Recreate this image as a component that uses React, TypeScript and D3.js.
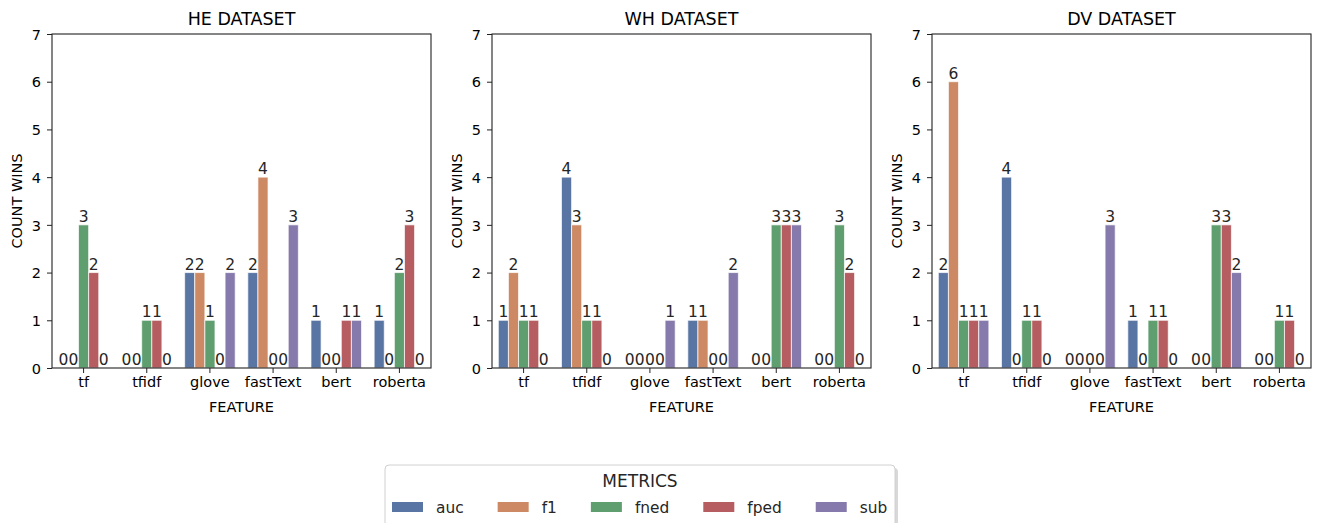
import React, { useRef, useEffect } from 'react';
import * as d3 from 'd3';

const features = ['tf', 'tfidf', 'glove', 'fastText', 'bert', 'roberta'];
const metrics = ['auc', 'f1', 'fned', 'fped', 'sub'];
const colors = ['#5975a4', '#cc8963', '#5f9e6e', '#b55d60', '#857aab'];
const yTicks = [0, 1, 2, 3, 4, 5, 6, 7];

// wins per feature, in metric order auc, f1, fned, fped, sub
const heWins = [
  [0, 0, 3, 2, 0],
  [0, 0, 1, 1, 0],
  [2, 2, 1, 0, 2],
  [2, 4, 0, 0, 3],
  [1, 0, 0, 1, 1],
  [1, 0, 2, 3, 0],
];
const whWins = [
  [1, 2, 1, 1, 0],
  [4, 3, 1, 1, 0],
  [0, 0, 0, 0, 1],
  [1, 1, 0, 0, 2],
  [0, 0, 3, 3, 3],
  [0, 0, 3, 2, 0],
];
const dvWins = [
  [2, 6, 1, 1, 1],
  [4, 0, 1, 1, 0],
  [0, 0, 0, 0, 3],
  [1, 0, 1, 1, 0],
  [0, 0, 3, 3, 2],
  [0, 0, 1, 1, 0],
];
const datasets = [
  { title: 'HE DATASET', wins: heWins },
  { title: 'WH DATASET', wins: whWins },
  { title: 'DV DATASET', wins: dvWins },
];

const FONT = 'DejaVu Sans, sans-serif';

const App = () => {
  const svgRef = useRef(null);
  useEffect(() => {
    document.body.style.margin = '0';
    d3.select(svgRef.current).selectAll('*').remove();
    const svg = d3.select(svgRef.current);
    const top = 34;
    const bottom = 368;
    const w = 379;

    const y = d3.scaleLinear().domain([0, 7]).range([bottom, top]);

    datasets.forEach((ds, i) => {
      const left = 52 + i * 440;
      const g = svg.append('g').attr('transform', `translate(${left},0)`);

      const x = d3.scaleBand().domain(features).range([0, w]).paddingInner(0).paddingOuter(0);
      const inner = d3
        .scaleBand()
        .domain(metrics)
        .range([x.bandwidth() * 0.1, x.bandwidth() * 0.9]);

      // bars
      const groups = g
        .selectAll('.grp')
        .data(ds.wins)
        .enter()
        .append('g')
        .attr('transform', (_, j) => `translate(${x(features[j])},0)`);

      groups
        .selectAll('rect')
        .data((d) => d.map((v, k) => ({ v, k })))
        .enter()
        .append('rect')
        .attr('x', (d) => inner(metrics[d.k]))
        .attr('width', inner.bandwidth())
        .attr('y', (d) => y(d.v))
        .attr('height', (d) => y(0) - y(d.v))
        .attr('fill', (d) => colors[d.k])
        .attr('stroke', 'rgba(255,255,255,0.7)')
        .attr('stroke-width', 1);

      groups
        .selectAll('text')
        .data((d) => d.map((v, k) => ({ v, k })))
        .enter()
        .append('text')
        .attr('x', (d) => inner(metrics[d.k]) + inner.bandwidth() / 2)
        .attr('y', (d) => y(d.v) - 3)
        .attr('text-anchor', 'middle')
        .style('font-family', FONT)
        .style('font-size', '15.5px')
        .attr('fill', '#262626')
        .text((d) => d.v);

      // axes
      const xAxis = d3.axisBottom(x).tickSize(5).tickPadding(4);
      const gx = g.append('g').attr('transform', `translate(0,${bottom})`).call(xAxis);
      const yAxis = d3
        .axisLeft(y)
        .tickValues(yTicks)
        .tickFormat(d3.format('d'))
        .tickSize(5)
        .tickPadding(6);
      const gy = g.append('g').call(yAxis);
      [gx, gy].forEach((ax) => {
        ax.select('.domain').remove();
        ax.selectAll('.tick line').attr('stroke', '#222').attr('stroke-width', 1);
        ax.selectAll('.tick text')
          .style('font-family', FONT)
          .style('font-size', '14.5px')
          .attr('fill', '#000');
      });
      gx.selectAll('.tick text').attr('dy', '0.71em').attr('y', 9);
      gy.selectAll('.tick text').attr('dy', '0.36em');

      // frame
      g.append('rect')
        .attr('x', 0)
        .attr('y', top)
        .attr('width', w)
        .attr('height', bottom - top)
        .attr('fill', 'none')
        .attr('stroke', '#222')
        .attr('stroke-width', 1.1);

      g.append('text')
        .attr('x', w / 2)
        .attr('y', 25)
        .attr('text-anchor', 'middle')
        .style('font-family', FONT)
        .style('font-size', '17.5px')
        .text(ds.title);

      g.append('text')
        .attr('x', w / 2)
        .attr('y', 412)
        .attr('text-anchor', 'middle')
        .style('font-family', FONT)
        .style('font-size', '14.5px')
        .text('FEATURE');

      g.append('text')
        .attr('transform', `translate(-30,${(top + bottom) / 2}) rotate(-90)`)
        .attr('text-anchor', 'middle')
        .style('font-family', FONT)
        .style('font-size', '14.5px')
        .text('COUNT WINS');
    });

    // legend
    const lg = svg.append('g');
    lg.append('rect')
      .attr('x', 388)
      .attr('y', 468)
      .attr('width', 510)
      .attr('height', 70)
      .attr('rx', 4)
      .attr('fill', '#d8d8d8');
    lg.append('rect')
      .attr('x', 385)
      .attr('y', 465)
      .attr('width', 510)
      .attr('height', 70)
      .attr('rx', 4)
      .attr('fill', '#fff')
      .attr('stroke', '#d0d0d0')
      .attr('stroke-width', 1);
    lg.append('text')
      .attr('x', 640)
      .attr('y', 487)
      .attr('text-anchor', 'middle')
      .style('font-family', FONT)
      .style('font-size', '17px')
      .attr('fill', '#262626')
      .text('METRICS');

    let cx = 392;
    metrics.forEach((m, k) => {
      lg.append('rect')
        .attr('x', cx)
        .attr('y', 502)
        .attr('width', 31)
        .attr('height', 10)
        .attr('fill', colors[k]);
      const t = lg
        .append('text')
        .attr('x', cx + 44)
        .attr('y', 513)
        .style('font-family', FONT)
        .style('font-size', '15.4px')
        .attr('fill', '#262626')
        .text(m);
      const tw = t.node().getComputedTextLength();
      cx += 44 + tw + 34;
    });
  }, []);

  return <svg ref={svgRef} width={1317} height={523} style={{ display: 'block', background: '#fff' }}></svg>;
};

export default App;
